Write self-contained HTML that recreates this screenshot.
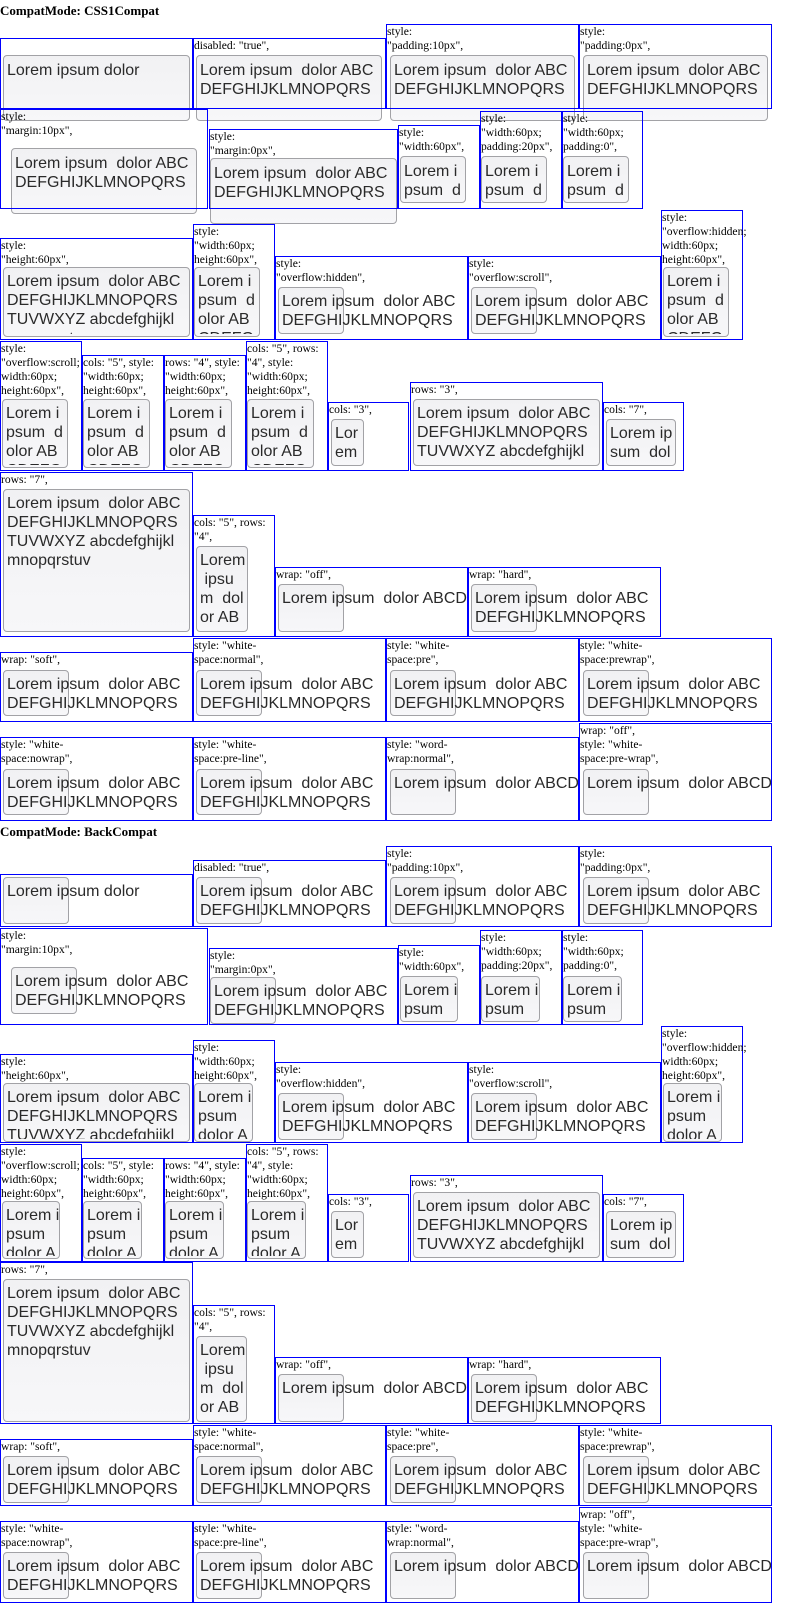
<!DOCTYPE html>
<html><head><meta charset="utf-8"><style>
html,body{margin:0;padding:0;background:#fff;width:800px;height:1603px;overflow:hidden;position:relative}
.h{position:absolute;left:0;font:bold 13px/14px "Liberation Serif",serif;color:#000;white-space:pre}
.b{position:absolute;border:1px solid #00f;box-sizing:border-box;z-index:3}
.l{position:absolute;left:0;top:0;font:11.6px/14px "Liberation Serif",serif;color:#000;white-space:pre}
.t{position:absolute;box-sizing:border-box;border:1px solid #a2a2a6;border-radius:4px;background:linear-gradient(#f1f1f3,#f7f7f9);z-index:1}
.x{position:absolute;overflow:hidden;font:16px/19px "Liberation Sans",sans-serif;color:#2a2a2a;white-space:pre;z-index:2;clip-path:inset(0 0 3px 0)}
</style></head><body>
<div class="h" style="top:4px">CompatMode: CSS1Compat</div>

<div class="b" style="left:0;top:38px;width:193px;height:71px"></div>
<div class="t" style="left:3px;top:55px;width:187px;height:66px"></div>
<div class="x" style="left:7px;top:61px;width:185px;height:42px">Lorem ipsum dolor</div>

<div class="b" style="left:193px;top:38px;width:193px;height:71px"><div class="l">disabled: "true",</div></div>
<div class="t" style="left:196px;top:55px;width:186px;height:66px"></div>
<div class="x" style="left:200px;top:61px;width:185px;height:42px">Lorem ipsum  dolor ABC
DEFGHIJKLMNOPQRS
TUVWXYZ abcdefghijkl</div>

<div class="b" style="left:386px;top:24px;width:193px;height:85px"><div class="l">style:
"padding:10px",</div></div>
<div class="t" style="left:390px;top:55px;width:185px;height:66px"></div>
<div class="x" style="left:394px;top:61px;width:184px;height:42px">Lorem ipsum  dolor ABC
DEFGHIJKLMNOPQRS
TUVWXYZ abcdefghijkl</div>

<div class="b" style="left:579px;top:24px;width:193px;height:85px"><div class="l">style:
"padding:0px",</div></div>
<div class="t" style="left:583px;top:55px;width:185px;height:66px"></div>
<div class="x" style="left:587px;top:61px;width:184px;height:42px">Lorem ipsum  dolor ABC
DEFGHIJKLMNOPQRS
TUVWXYZ abcdefghijkl</div>

<div class="b" style="left:0;top:109px;width:208px;height:100px"><div class="l">style:
"margin:10px",</div></div>
<div class="t" style="left:11px;top:148px;width:186px;height:66px"></div>
<div class="x" style="left:15px;top:154px;width:192px;height:40px">Lorem ipsum  dolor ABC
DEFGHIJKLMNOPQRS
TUVWXYZ abcdefghijkl</div>

<div class="b" style="left:209px;top:129px;width:189px;height:80px"><div class="l">style:
"margin:0px",</div></div>
<div class="t" style="left:210px;top:158px;width:187px;height:66px"></div>
<div class="x" style="left:214px;top:164px;width:183px;height:42px">Lorem ipsum  dolor ABC
DEFGHIJKLMNOPQRS
TUVWXYZ abcdefghijkl</div>

<div class="b" style="left:398px;top:125px;width:82px;height:84px"><div class="l">style:
"width:60px",</div></div>
<div class="t" style="left:400px;top:156px;width:66px;height:47px"></div>
<div class="x" style="left:404px;top:162px;width:75px;height:41px">Lorem i
psum  d
olor AB</div>

<div class="b" style="left:480px;top:111px;width:82px;height:98px"><div class="l">style:
"width:60px;
padding:20px",</div></div>
<div class="t" style="left:481px;top:156px;width:66px;height:47px"></div>
<div class="x" style="left:485px;top:162px;width:76px;height:41px">Lorem i
psum  d
olor AB</div>

<div class="b" style="left:562px;top:111px;width:81px;height:98px"><div class="l">style:
"width:60px;
padding:0",</div></div>
<div class="t" style="left:563px;top:156px;width:66px;height:47px"></div>
<div class="x" style="left:567px;top:162px;width:75px;height:41px">Lorem i
psum  d
olor AB</div>

<div class="b" style="left:0;top:238px;width:193px;height:102px"><div class="l">style:
"height:60px",</div></div>
<div class="t" style="left:3px;top:267px;width:187px;height:70px"></div>
<div class="x" style="left:7px;top:272px;width:185px;height:65px">Lorem ipsum  dolor ABC
DEFGHIJKLMNOPQRS
TUVWXYZ abcdefghijkl
mnopqrstuv</div>

<div class="b" style="left:193px;top:224px;width:82px;height:116px"><div class="l">style:
"width:60px;
height:60px",</div></div>
<div class="t" style="left:194px;top:267px;width:66px;height:70px"></div>
<div class="x" style="left:198px;top:272px;width:76px;height:65px">Lorem i
psum  d
olor AB
CDEFG</div>

<div class="b" style="left:275px;top:256px;width:193px;height:84px"><div class="l">style:
"overflow:hidden",</div></div>
<div class="t" style="left:278px;top:287px;width:66px;height:47px"></div>
<div class="x" style="left:282px;top:292px;width:185px;height:43px">Lorem ipsum  dolor ABC
DEFGHIJKLMNOPQRS
TUVWXYZ abcdefghijkl</div>

<div class="b" style="left:468px;top:256px;width:193px;height:84px"><div class="l">style:
"overflow:scroll",</div></div>
<div class="t" style="left:471px;top:287px;width:66px;height:47px"></div>
<div class="x" style="left:475px;top:292px;width:185px;height:43px">Lorem ipsum  dolor ABC
DEFGHIJKLMNOPQRS
TUVWXYZ abcdefghijkl</div>

<div class="b" style="left:661px;top:210px;width:82px;height:130px"><div class="l">style:
"overflow:hidden;
width:60px;
height:60px",</div></div>
<div class="t" style="left:663px;top:267px;width:66px;height:70px"></div>
<div class="x" style="left:667px;top:272px;width:75px;height:65px">Lorem i
psum  d
olor AB
CDEFG</div>

<div class="b" style="left:0;top:341px;width:82px;height:130px"><div class="l">style:
"overflow:scroll;
width:60px;
height:60px",</div></div>
<div class="t" style="left:2px;top:399px;width:66px;height:69px"></div>
<div class="x" style="left:6px;top:404px;width:75px;height:64px">Lorem i
psum  d
olor AB
CDEFG</div>

<div class="b" style="left:82px;top:355px;width:82px;height:116px"><div class="l">cols: "5", style:
"width:60px;
height:60px",</div></div>
<div class="t" style="left:83px;top:399px;width:67px;height:69px"></div>
<div class="x" style="left:87px;top:404px;width:76px;height:64px">Lorem i
psum  d
olor AB
CDEFG</div>

<div class="b" style="left:164px;top:355px;width:82px;height:116px"><div class="l">rows: "4", style:
"width:60px;
height:60px",</div></div>
<div class="t" style="left:165px;top:399px;width:67px;height:69px"></div>
<div class="x" style="left:169px;top:404px;width:76px;height:64px">Lorem i
psum  d
olor AB
CDEFG</div>

<div class="b" style="left:246px;top:341px;width:82px;height:130px"><div class="l">cols: "5", rows:
"4", style:
"width:60px;
height:60px",</div></div>
<div class="t" style="left:247px;top:399px;width:67px;height:69px"></div>
<div class="x" style="left:251px;top:404px;width:76px;height:64px">Lorem i
psum  d
olor AB
CDEFG</div>

<div class="b" style="left:328px;top:402px;width:81px;height:69px"><div class="l">cols: "3",</div></div>
<div class="t" style="left:331px;top:419px;width:33px;height:47px"></div>
<div class="x" style="left:335px;top:424px;width:73px;height:42px">Lor
em</div>

<div class="b" style="left:410px;top:382px;width:193px;height:89px"><div class="l">rows: "3",</div></div>
<div class="t" style="left:413px;top:399px;width:187px;height:67px"></div>
<div class="x" style="left:417px;top:404px;width:185px;height:62px">Lorem ipsum  dolor ABC
DEFGHIJKLMNOPQRS
TUVWXYZ abcdefghijkl
mnopqrstuv</div>

<div class="b" style="left:603px;top:402px;width:81px;height:69px"><div class="l">cols: "7",</div></div>
<div class="t" style="left:606px;top:419px;width:70px;height:47px"></div>
<div class="x" style="left:610px;top:424px;width:73px;height:42px">Lorem ip
sum  dol
or ABC</div>

<div class="b" style="left:0;top:472px;width:193px;height:165px"><div class="l">rows: "7",</div></div>
<div class="t" style="left:3px;top:489px;width:187px;height:143px"></div>
<div class="x" style="left:7px;top:494px;width:185px;height:100px">Lorem ipsum  dolor ABC
DEFGHIJKLMNOPQRS
TUVWXYZ abcdefghijkl
mnopqrstuv</div>

<div class="b" style="left:193px;top:515px;width:82px;height:122px"><div class="l">cols: "5", rows:
"4",</div></div>
<div class="t" style="left:196px;top:546px;width:52px;height:86px"></div>
<div class="x" style="left:200px;top:551px;width:74px;height:81px">Lorem
 ipsu
m  dol
or AB</div>

<div class="b" style="left:275px;top:567px;width:193px;height:70px"><div class="l">wrap: "off",</div></div>
<div class="t" style="left:278px;top:584px;width:66px;height:48px"></div>
<div class="x" style="left:282px;top:589px;width:185px;height:43px">Lorem ipsum  dolor ABCDEFGHIJKLMNOPQRS</div>

<div class="b" style="left:468px;top:567px;width:193px;height:70px"><div class="l">wrap: "hard",</div></div>
<div class="t" style="left:471px;top:584px;width:66px;height:48px"></div>
<div class="x" style="left:475px;top:589px;width:185px;height:43px">Lorem ipsum  dolor ABC
DEFGHIJKLMNOPQRS
TUVWXYZ abcdefghijkl</div>

<div class="b" style="left:0;top:652px;width:193px;height:70px"><div class="l">wrap: "soft",</div></div>
<div class="t" style="left:3px;top:670px;width:66px;height:46px"></div>
<div class="x" style="left:7px;top:675px;width:185px;height:41px">Lorem ipsum  dolor ABC
DEFGHIJKLMNOPQRS
TUVWXYZ abcdefghijkl</div>

<div class="b" style="left:193px;top:638px;width:193px;height:84px"><div class="l">style: "white-
space:normal",</div></div>
<div class="t" style="left:196px;top:670px;width:66px;height:46px"></div>
<div class="x" style="left:200px;top:675px;width:185px;height:41px">Lorem ipsum  dolor ABC
DEFGHIJKLMNOPQRS
TUVWXYZ abcdefghijkl</div>

<div class="b" style="left:386px;top:638px;width:193px;height:84px"><div class="l">style: "white-
space:pre",</div></div>
<div class="t" style="left:390px;top:670px;width:66px;height:46px"></div>
<div class="x" style="left:394px;top:675px;width:184px;height:41px">Lorem ipsum  dolor ABC
DEFGHIJKLMNOPQRS
TUVWXYZ abcdefghijkl</div>

<div class="b" style="left:579px;top:638px;width:193px;height:84px"><div class="l">style: "white-
space:prewrap",</div></div>
<div class="t" style="left:583px;top:670px;width:66px;height:46px"></div>
<div class="x" style="left:587px;top:675px;width:184px;height:41px">Lorem ipsum  dolor ABC
DEFGHIJKLMNOPQRS
TUVWXYZ abcdefghijkl</div>

<div class="b" style="left:0;top:737px;width:193px;height:84px"><div class="l">style: "white-
space:nowrap",</div></div>
<div class="t" style="left:3px;top:769px;width:66px;height:46px"></div>
<div class="x" style="left:7px;top:774px;width:185px;height:41px">Lorem ipsum  dolor ABC
DEFGHIJKLMNOPQRS
TUVWXYZ abcdefghijkl</div>

<div class="b" style="left:193px;top:737px;width:193px;height:84px"><div class="l">style: "white-
space:pre-line",</div></div>
<div class="t" style="left:196px;top:769px;width:66px;height:46px"></div>
<div class="x" style="left:200px;top:774px;width:185px;height:41px">Lorem ipsum  dolor ABC
DEFGHIJKLMNOPQRS
TUVWXYZ abcdefghijkl</div>

<div class="b" style="left:386px;top:737px;width:193px;height:84px"><div class="l">style: "word-
wrap:normal",</div></div>
<div class="t" style="left:390px;top:769px;width:66px;height:46px"></div>
<div class="x" style="left:394px;top:774px;width:184px;height:41px">Lorem ipsum  dolor ABCDEFGHIJKLMNOPQRS</div>

<div class="b" style="left:579px;top:723px;width:193px;height:98px"><div class="l">wrap: "off",
style: "white-
space:pre-wrap",</div></div>
<div class="t" style="left:583px;top:769px;width:66px;height:46px"></div>
<div class="x" style="left:587px;top:774px;width:184px;height:41px">Lorem ipsum  dolor ABCDEFGHIJKLMNOPQRS</div>

<div class="h" style="top:825px">CompatMode: BackCompat</div>

<div class="b" style="left:0;top:874px;width:193px;height:53px"></div>
<div class="t" style="left:3px;top:877px;width:66px;height:47px"></div>
<div class="x" style="left:7px;top:882px;width:185px;height:42px">Lorem ipsum dolor</div>

<div class="b" style="left:193px;top:860px;width:193px;height:67px"><div class="l">disabled: "true",</div></div>
<div class="t" style="left:196px;top:877px;width:66px;height:47px"></div>
<div class="x" style="left:200px;top:882px;width:185px;height:43px">Lorem ipsum  dolor ABC
DEFGHIJKLMNOPQRS
TUVWXYZ abcdefghijkl</div>

<div class="b" style="left:386px;top:846px;width:193px;height:81px"><div class="l">style:
"padding:10px",</div></div>
<div class="t" style="left:390px;top:877px;width:66px;height:47px"></div>
<div class="x" style="left:394px;top:882px;width:184px;height:43px">Lorem ipsum  dolor ABC
DEFGHIJKLMNOPQRS
TUVWXYZ abcdefghijkl</div>

<div class="b" style="left:579px;top:846px;width:193px;height:81px"><div class="l">style:
"padding:0px",</div></div>
<div class="t" style="left:583px;top:877px;width:66px;height:47px"></div>
<div class="x" style="left:587px;top:882px;width:184px;height:43px">Lorem ipsum  dolor ABC
DEFGHIJKLMNOPQRS
TUVWXYZ abcdefghijkl</div>

<div class="b" style="left:0;top:928px;width:208px;height:97px"><div class="l">style:
"margin:10px",</div></div>
<div class="t" style="left:11px;top:967px;width:66px;height:47px"></div>
<div class="x" style="left:15px;top:972px;width:192px;height:42px">Lorem ipsum  dolor ABC
DEFGHIJKLMNOPQRS
TUVWXYZ abcdefghijkl</div>

<div class="b" style="left:209px;top:948px;width:189px;height:77px"><div class="l">style:
"margin:0px",</div></div>
<div class="t" style="left:210px;top:977px;width:66px;height:47px"></div>
<div class="x" style="left:214px;top:982px;width:183px;height:42px">Lorem ipsum  dolor ABC
DEFGHIJKLMNOPQRS
TUVWXYZ abcdefghijkl</div>

<div class="b" style="left:398px;top:945px;width:82px;height:80px"><div class="l">style:
"width:60px",</div></div>
<div class="t" style="left:400px;top:976px;width:58px;height:46px"></div>
<div class="x" style="left:404px;top:981px;width:75px;height:41px">Lorem i
psum
dolor A</div>

<div class="b" style="left:480px;top:930px;width:82px;height:95px"><div class="l">style:
"width:60px;
padding:20px",</div></div>
<div class="t" style="left:481px;top:976px;width:59px;height:46px"></div>
<div class="x" style="left:485px;top:981px;width:76px;height:41px">Lorem i
psum
dolor A</div>

<div class="b" style="left:562px;top:930px;width:81px;height:95px"><div class="l">style:
"width:60px;
padding:0",</div></div>
<div class="t" style="left:563px;top:976px;width:59px;height:46px"></div>
<div class="x" style="left:567px;top:981px;width:75px;height:41px">Lorem i
psum
dolor A</div>

<div class="b" style="left:0;top:1054px;width:193px;height:89px"><div class="l">style:
"height:60px",</div></div>
<div class="t" style="left:3px;top:1083px;width:187px;height:59px"></div>
<div class="x" style="left:7px;top:1088px;width:185px;height:54px">Lorem ipsum  dolor ABC
DEFGHIJKLMNOPQRS
TUVWXYZ abcdefghijkl</div>

<div class="b" style="left:193px;top:1040px;width:82px;height:103px"><div class="l">style:
"width:60px;
height:60px",</div></div>
<div class="t" style="left:194px;top:1083px;width:59px;height:59px"></div>
<div class="x" style="left:198px;top:1088px;width:76px;height:54px">Lorem i
psum
dolor A</div>

<div class="b" style="left:275px;top:1062px;width:193px;height:81px"><div class="l">style:
"overflow:hidden",</div></div>
<div class="t" style="left:278px;top:1093px;width:66px;height:47px"></div>
<div class="x" style="left:282px;top:1098px;width:185px;height:42px">Lorem ipsum  dolor ABC
DEFGHIJKLMNOPQRS
TUVWXYZ abcdefghijkl</div>

<div class="b" style="left:468px;top:1062px;width:193px;height:81px"><div class="l">style:
"overflow:scroll",</div></div>
<div class="t" style="left:471px;top:1093px;width:66px;height:47px"></div>
<div class="x" style="left:475px;top:1098px;width:185px;height:42px">Lorem ipsum  dolor ABC
DEFGHIJKLMNOPQRS
TUVWXYZ abcdefghijkl</div>

<div class="b" style="left:661px;top:1026px;width:82px;height:117px"><div class="l">style:
"overflow:hidden;
width:60px;
height:60px",</div></div>
<div class="t" style="left:663px;top:1083px;width:59px;height:59px"></div>
<div class="x" style="left:667px;top:1088px;width:75px;height:54px">Lorem i
psum
dolor A</div>

<div class="b" style="left:0;top:1144px;width:82px;height:118px"><div class="l">style:
"overflow:scroll;
width:60px;
height:60px",</div></div>
<div class="t" style="left:2px;top:1201px;width:58px;height:58px"></div>
<div class="x" style="left:6px;top:1206px;width:75px;height:53px">Lorem i
psum
dolor A</div>

<div class="b" style="left:82px;top:1158px;width:82px;height:104px"><div class="l">cols: "5", style:
"width:60px;
height:60px",</div></div>
<div class="t" style="left:83px;top:1201px;width:59px;height:58px"></div>
<div class="x" style="left:87px;top:1206px;width:76px;height:53px">Lorem i
psum
dolor A</div>

<div class="b" style="left:164px;top:1158px;width:82px;height:104px"><div class="l">rows: "4", style:
"width:60px;
height:60px",</div></div>
<div class="t" style="left:165px;top:1201px;width:59px;height:58px"></div>
<div class="x" style="left:169px;top:1206px;width:76px;height:53px">Lorem i
psum
dolor A</div>

<div class="b" style="left:246px;top:1144px;width:82px;height:118px"><div class="l">cols: "5", rows:
"4", style:
"width:60px;
height:60px",</div></div>
<div class="t" style="left:247px;top:1201px;width:59px;height:58px"></div>
<div class="x" style="left:251px;top:1206px;width:76px;height:53px">Lorem i
psum
dolor A</div>

<div class="b" style="left:328px;top:1194px;width:81px;height:68px"><div class="l">cols: "3",</div></div>
<div class="t" style="left:331px;top:1211px;width:33px;height:47px"></div>
<div class="x" style="left:335px;top:1216px;width:73px;height:42px">Lor
em</div>

<div class="b" style="left:410px;top:1175px;width:193px;height:87px"><div class="l">rows: "3",</div></div>
<div class="t" style="left:413px;top:1192px;width:187px;height:66px"></div>
<div class="x" style="left:417px;top:1197px;width:185px;height:61px">Lorem ipsum  dolor ABC
DEFGHIJKLMNOPQRS
TUVWXYZ abcdefghijkl
mnopqrstuv</div>

<div class="b" style="left:603px;top:1194px;width:81px;height:68px"><div class="l">cols: "7",</div></div>
<div class="t" style="left:606px;top:1211px;width:70px;height:47px"></div>
<div class="x" style="left:610px;top:1216px;width:73px;height:42px">Lorem ip
sum  dol
or ABC</div>

<div class="b" style="left:0;top:1262px;width:193px;height:162px"><div class="l">rows: "7",</div></div>
<div class="t" style="left:3px;top:1279px;width:187px;height:143px"></div>
<div class="x" style="left:7px;top:1284px;width:185px;height:100px">Lorem ipsum  dolor ABC
DEFGHIJKLMNOPQRS
TUVWXYZ abcdefghijkl
mnopqrstuv</div>

<div class="b" style="left:193px;top:1305px;width:82px;height:119px"><div class="l">cols: "5", rows:
"4",</div></div>
<div class="t" style="left:196px;top:1336px;width:51px;height:86px"></div>
<div class="x" style="left:200px;top:1341px;width:74px;height:81px">Lorem
 ipsu
m  dol
or AB</div>

<div class="b" style="left:275px;top:1357px;width:193px;height:67px"><div class="l">wrap: "off",</div></div>
<div class="t" style="left:278px;top:1374px;width:66px;height:48px"></div>
<div class="x" style="left:282px;top:1379px;width:185px;height:43px">Lorem ipsum  dolor ABCDEFGHIJKLMNOPQRS</div>

<div class="b" style="left:468px;top:1357px;width:193px;height:67px"><div class="l">wrap: "hard",</div></div>
<div class="t" style="left:471px;top:1374px;width:66px;height:48px"></div>
<div class="x" style="left:475px;top:1379px;width:185px;height:43px">Lorem ipsum  dolor ABC
DEFGHIJKLMNOPQRS
TUVWXYZ abcdefghijkl</div>

<div class="b" style="left:0;top:1439px;width:193px;height:67px"><div class="l">wrap: "soft",</div></div>
<div class="t" style="left:3px;top:1456px;width:66px;height:47px"></div>
<div class="x" style="left:7px;top:1461px;width:185px;height:42px">Lorem ipsum  dolor ABC
DEFGHIJKLMNOPQRS
TUVWXYZ abcdefghijkl</div>

<div class="b" style="left:193px;top:1425px;width:193px;height:81px"><div class="l">style: "white-
space:normal",</div></div>
<div class="t" style="left:196px;top:1456px;width:66px;height:47px"></div>
<div class="x" style="left:200px;top:1461px;width:185px;height:42px">Lorem ipsum  dolor ABC
DEFGHIJKLMNOPQRS
TUVWXYZ abcdefghijkl</div>

<div class="b" style="left:386px;top:1425px;width:193px;height:81px"><div class="l">style: "white-
space:pre",</div></div>
<div class="t" style="left:390px;top:1456px;width:66px;height:47px"></div>
<div class="x" style="left:394px;top:1461px;width:184px;height:42px">Lorem ipsum  dolor ABC
DEFGHIJKLMNOPQRS
TUVWXYZ abcdefghijkl</div>

<div class="b" style="left:579px;top:1425px;width:193px;height:81px"><div class="l">style: "white-
space:prewrap",</div></div>
<div class="t" style="left:583px;top:1456px;width:66px;height:47px"></div>
<div class="x" style="left:587px;top:1461px;width:184px;height:42px">Lorem ipsum  dolor ABC
DEFGHIJKLMNOPQRS
TUVWXYZ abcdefghijkl</div>

<div class="b" style="left:0;top:1521px;width:193px;height:82px"><div class="l">style: "white-
space:nowrap",</div></div>
<div class="t" style="left:3px;top:1552px;width:66px;height:47px"></div>
<div class="x" style="left:7px;top:1557px;width:185px;height:42px">Lorem ipsum  dolor ABC
DEFGHIJKLMNOPQRS
TUVWXYZ abcdefghijkl</div>

<div class="b" style="left:193px;top:1521px;width:193px;height:82px"><div class="l">style: "white-
space:pre-line",</div></div>
<div class="t" style="left:196px;top:1552px;width:66px;height:47px"></div>
<div class="x" style="left:200px;top:1557px;width:185px;height:42px">Lorem ipsum  dolor ABC
DEFGHIJKLMNOPQRS
TUVWXYZ abcdefghijkl</div>

<div class="b" style="left:386px;top:1521px;width:193px;height:82px"><div class="l">style: "word-
wrap:normal",</div></div>
<div class="t" style="left:390px;top:1552px;width:66px;height:47px"></div>
<div class="x" style="left:394px;top:1557px;width:184px;height:42px">Lorem ipsum  dolor ABCDEFGHIJKLMNOPQRS</div>

<div class="b" style="left:579px;top:1507px;width:193px;height:96px"><div class="l">wrap: "off",
style: "white-
space:pre-wrap",</div></div>
<div class="t" style="left:583px;top:1552px;width:66px;height:47px"></div>
<div class="x" style="left:587px;top:1557px;width:184px;height:42px">Lorem ipsum  dolor ABCDEFGHIJKLMNOPQRS</div>

</body></html>
